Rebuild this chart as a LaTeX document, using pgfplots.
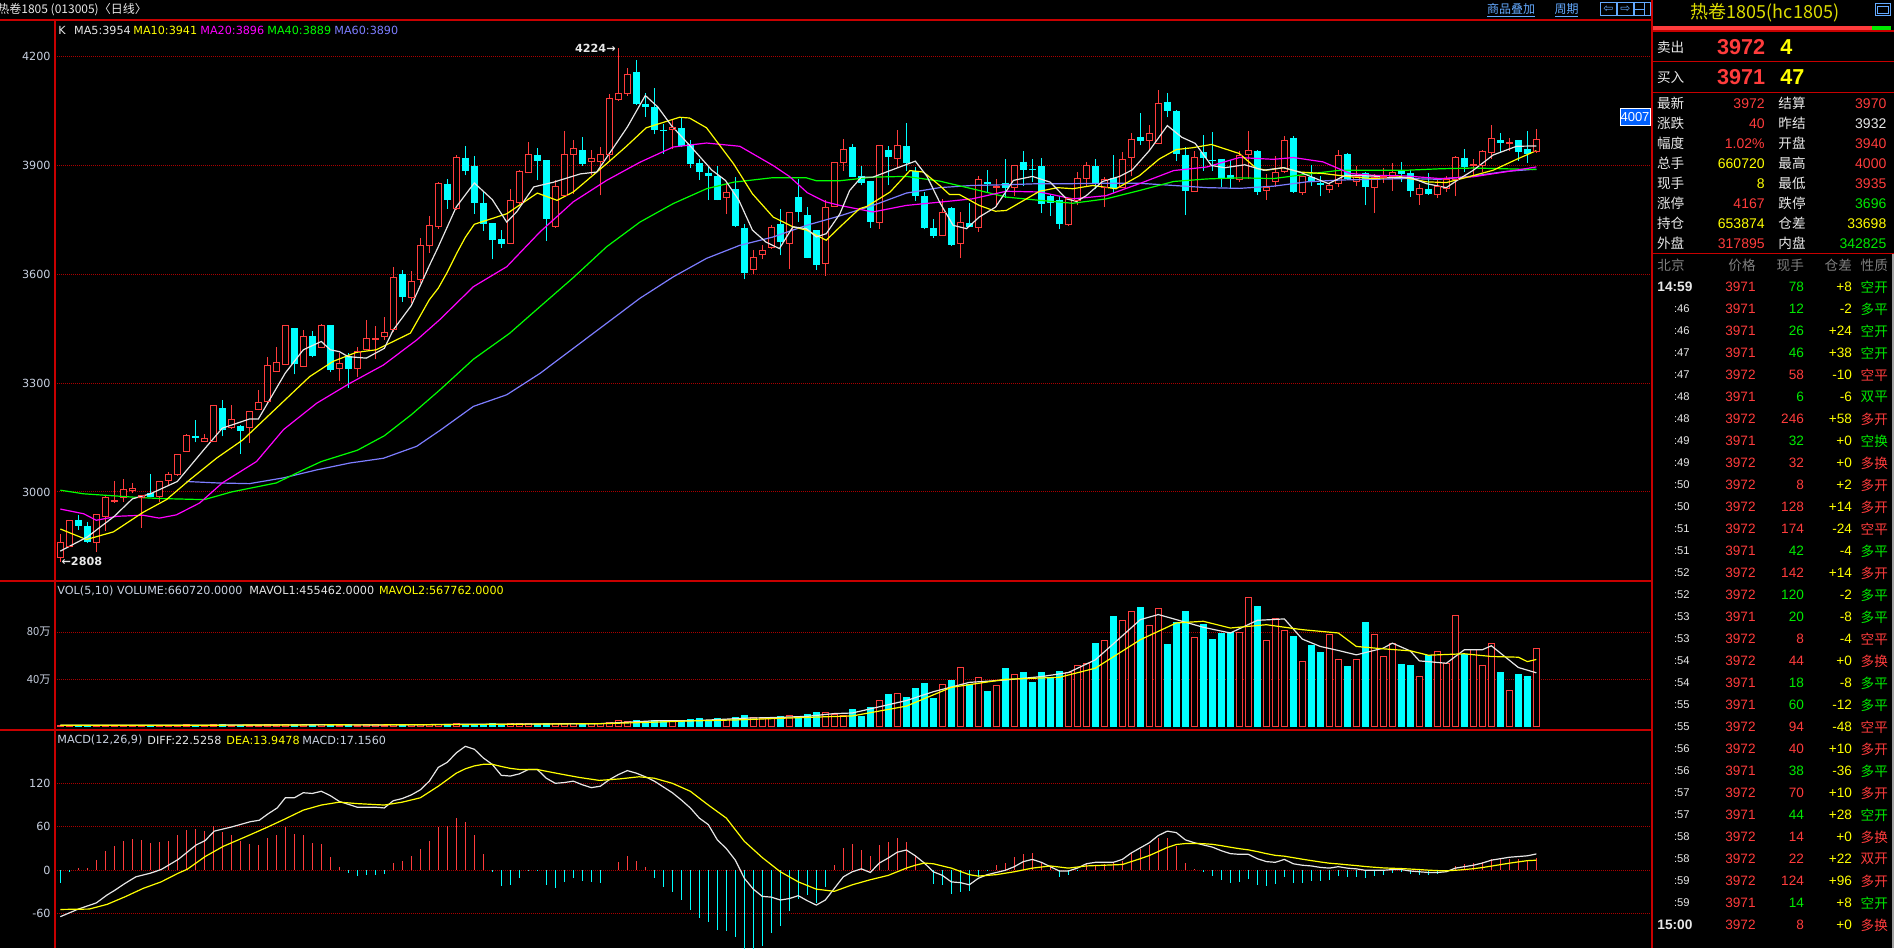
\documentclass[border=0pt]{standalone}
\usepackage{pgfplots}
\usepackage{pgfplotstable}
\pgfplotsset{compat=1.18}
\usepackage{fontspec}
\setmainfont{DejaVu Sans}
\newfontfamily\cjk{Noto Sans CJK SC}
\newfontfamily\lib{Liberation Sans}

\definecolor{border}{RGB}{200,0,0}
\definecolor{gridred}{RGB}{170,0,0}
\definecolor{upred}{RGB}{255,60,60}
\definecolor{dncyan}{RGB}{0,255,255}
\definecolor{maw}{RGB}{230,230,230}
\definecolor{may}{RGB}{255,255,0}
\definecolor{mam}{RGB}{255,0,255}
\definecolor{mag}{RGB}{0,255,0}
\definecolor{mab}{RGB}{125,125,255}
\definecolor{lbl}{RGB}{200,208,224}
\definecolor{lblw}{RGB}{232,232,232}
\definecolor{linkblue}{RGB}{100,170,255}
\definecolor{ttl}{RGB}{220,220,0}
\definecolor{qgreen}{RGB}{0,235,0}
\definecolor{hdrgray}{RGB}{128,128,128}
\definecolor{boxblue}{RGB}{0,96,255}

\newcommand{\fs}[1]{\fontsize{#1}{#1}\selectfont}

\pgfplotsset{
  panel/.style={scale only axis, anchor=south west, width=797.5pt,
    xmin=-0.589, xmax=176.63, axis line style={draw=none}, xtick=\empty,
    ytick pos=left, major tick length=0pt, tick style={draw=none},
    ymajorgrids, major grid style={draw=gridred, line width=0.5pt, dash pattern=on 0.5pt off 0.5pt},
    yticklabel style={font=\fs{5.6}, text=lbl, inner sep=0pt, xshift=-2pt}},
}

% candles, split by colour: wick rows (low, high) and body rows (open, close), nan = gap
\pgfplotstableread[row sep=\\]{x y\\
0 2808\\0 2884\\0 nan\\1 2849\\1 2924\\1 nan\\4 2834\\4 2938\\4 nan\\5 2892\\5 2991\\5 nan\\
6 2970\\6 3031\\6 nan\\7 2973\\7 3036\\7 nan\\8 2996\\8 3025\\8 nan\\9 2901\\9 2991\\9 nan\\
11 2972\\11 3029\\11 nan\\12 3018\\12 3054\\12 nan\\13 3045\\13 3106\\13 nan\\14 3111\\14 3161\\14 nan\\
16 3139\\16 3159\\16 nan\\17 3139\\17 3239\\17 nan\\19 3175\\19 3240\\19 nan\\21 3135\\21 3224\\21 nan\\
22 3225\\22 3282\\22 nan\\23 3245\\23 3372\\23 nan\\24 3331\\24 3399\\24 nan\\25 3350\\25 3458\\25 nan\\
27 3344\\27 3447\\27 nan\\29 3396\\29 3463\\29 nan\\31 3305\\31 3382\\31 nan\\33 3318\\33 3401\\33 nan\\
34 3392\\34 3474\\34 nan\\35 3366\\35 3458\\35 nan\\36 3419\\36 3483\\36 nan\\37 3440\\37 3620\\37 nan\\
39 3522\\39 3610\\39 nan\\40 3575\\40 3700\\40 nan\\41 3660\\41 3760\\41 nan\\42 3725\\42 3855\\42 nan\\
44 3778\\44 3928\\44 nan\\50 3683\\50 3836\\50 nan\\51 3795\\51 3888\\51 nan\\52 3880\\52 3966\\52 nan\\
55 3729\\55 3859\\55 nan\\56 3815\\56 3994\\56 nan\\57 3822\\57 3969\\57 nan\\59 3873\\59 3943\\59 nan\\
60 3818\\60 3951\\60 nan\\61 3910\\61 4097\\61 nan\\62 4079\\62 4224\\62 nan\\63 4092\\63 4168\\63 nan\\
68 3945\\68 4026\\68 nan\\74 3766\\74 3854\\74 nan\\77 3600\\77 3667\\77 nan\\78 3641\\78 3681\\78 nan\\
79 3671\\79 3735\\79 nan\\81 3616\\81 3770\\81 nan\\85 3595\\85 3804\\85 nan\\86 3786\\86 3908\\86 nan\\
87 3885\\87 3974\\87 nan\\91 3725\\91 3954\\91 nan\\93 3894\\93 3998\\93 nan\\98 3706\\98 3808\\98 nan\\
100 3645\\100 3772\\100 nan\\102 3717\\102 3872\\102 nan\\104 3785\\104 3863\\104 nan\\106 3817\\106 3902\\106 nan\\
112 3733\\112 3808\\112 nan\\113 3790\\113 3883\\113 nan\\114 3842\\114 3911\\114 nan\\116 3785\\116 3868\\116 nan\\
118 3840\\118 3937\\118 nan\\119 3870\\119 3989\\119 nan\\121 3941\\121 4013\\121 nan\\122 3958\\122 4108\\122 nan\\
126 3827\\126 3939\\126 nan\\131 3854\\131 3941\\131 nan\\132 3863\\132 3996\\132 nan\\134 3806\\134 3876\\134 nan\\
135 3841\\135 3926\\135 nan\\136 3878\\136 3981\\136 nan\\138 3820\\138 3871\\138 nan\\141 3825\\141 3852\\141 nan\\
142 3841\\142 3942\\142 nan\\144 3843\\144 3898\\144 nan\\146 3769\\146 3876\\146 nan\\147 3852\\147 3894\\147 nan\\
148 3830\\148 3906\\148 nan\\151 3791\\151 3850\\151 nan\\153 3811\\153 3860\\153 nan\\154 3827\\154 3872\\154 nan\\
155 3815\\155 3926\\155 nan\\157 3871\\157 3919\\157 nan\\158 3883\\158 3942\\158 nan\\159 3917\\159 4011\\159 nan\\
161 3940\\161 3977\\161 nan\\164 3935\\164 4000\\164 nan\\
}\wickR
\pgfplotstableread[row sep=\\]{x y\\
0 2820\\0 2860\\0 nan\\1 2850\\1 2921\\1 nan\\4 2862\\4 2937\\4 nan\\5 2933\\5 2986\\5 nan\\
6 2973\\6 2976\\6 nan\\7 2984\\7 3008\\7 nan\\8 3003\\8 3011\\8 nan\\9 2986\\9 2989\\9 nan\\
11 2988\\11 3028\\11 nan\\12 3032\\12 3047\\12 nan\\13 3047\\13 3102\\13 nan\\14 3113\\14 3157\\14 nan\\
16 3140\\16 3148\\16 nan\\17 3140\\17 3239\\17 nan\\19 3177\\19 3201\\19 nan\\21 3179\\21 3222\\21 nan\\
22 3227\\22 3248\\22 nan\\23 3250\\23 3350\\23 nan\\24 3333\\24 3358\\24 nan\\25 3351\\25 3458\\25 nan\\
27 3346\\27 3430\\27 nan\\29 3398\\29 3458\\29 nan\\31 3340\\31 3353\\31 nan\\33 3340\\33 3386\\33 nan\\
34 3394\\34 3424\\34 nan\\35 3421\\35 3424\\35 nan\\36 3428\\36 3439\\36 nan\\37 3449\\37 3590\\37 nan\\
39 3537\\39 3580\\39 nan\\40 3585\\40 3680\\40 nan\\41 3680\\41 3735\\41 nan\\42 3731\\42 3850\\42 nan\\
44 3781\\44 3923\\44 nan\\50 3685\\50 3803\\50 nan\\51 3797\\51 3883\\51 nan\\52 3882\\52 3930\\52 nan\\
55 3731\\55 3841\\55 nan\\56 3817\\56 3930\\56 nan\\57 3930\\57 3946\\57 nan\\59 3912\\59 3919\\59 nan\\
60 3912\\60 3930\\60 nan\\61 3930\\61 4084\\61 nan\\62 4082\\62 4099\\62 nan\\63 4099\\63 4152\\63 nan\\
68 4000\\68 4006\\68 nan\\74 3811\\74 3825\\74 nan\\77 3613\\77 3646\\77 nan\\78 3655\\78 3667\\78 nan\\
79 3674\\79 3729\\79 nan\\81 3685\\81 3770\\81 nan\\85 3630\\85 3784\\85 nan\\86 3786\\86 3908\\86 nan\\
87 3908\\87 3943\\87 nan\\91 3744\\91 3954\\91 nan\\93 3918\\93 3954\\93 nan\\98 3706\\98 3770\\98 nan\\
100 3684\\100 3742\\100 nan\\102 3728\\102 3861\\102 nan\\104 3839\\104 3843\\104 nan\\106 3839\\106 3899\\106 nan\\
112 3738\\112 3808\\112 nan\\113 3804\\113 3863\\113 nan\\114 3863\\114 3899\\114 nan\\116 3839\\116 3861\\116 nan\\
118 3840\\118 3916\\118 nan\\119 3921\\119 3973\\119 nan\\121 3969\\121 3987\\121 nan\\122 3961\\122 4072\\122 nan\\
126 3829\\126 3921\\126 nan\\131 3861\\131 3928\\131 nan\\132 3929\\132 3941\\132 nan\\134 3832\\134 3839\\134 nan\\
135 3855\\135 3882\\135 nan\\136 3883\\136 3970\\136 nan\\138 3825\\138 3871\\138 nan\\141 3834\\141 3845\\141 nan\\
142 3850\\142 3928\\142 nan\\144 3855\\144 3871\\144 nan\\146 3839\\146 3867\\146 nan\\147 3868\\147 3869\\147 nan\\
148 3869\\148 3880\\148 nan\\151 3820\\151 3836\\151 nan\\153 3820\\153 3843\\153 nan\\154 3836\\154 3861\\154 nan\\
155 3861\\155 3922\\155 nan\\157 3899\\157 3903\\157 nan\\158 3899\\158 3940\\158 nan\\159 3937\\159 3975\\159 nan\\
161 3961\\161 3964\\161 nan\\164 3940\\164 3972\\164 nan\\
}\bodyR
\pgfplotstableread[row sep=\\]{x y\\
2 2896\\2 2937\\2 nan\\3 2860\\3 2917\\3 nan\\10 2985\\10 3050\\10 nan\\15 3137\\15 3199\\15 nan\\
18 3153\\18 3254\\18 nan\\20 3106\\20 3186\\20 nan\\26 3324\\26 3452\\26 nan\\28 3371\\28 3443\\28 nan\\
30 3330\\30 3461\\30 nan\\32 3288\\32 3383\\32 nan\\38 3525\\38 3612\\38 nan\\43 3781\\43 3864\\43 nan\\
45 3873\\45 3954\\45 nan\\46 3767\\46 3925\\46 nan\\47 3720\\47 3827\\47 nan\\48 3641\\48 3741\\48 nan\\
49 3672\\49 3722\\49 nan\\53 3859\\53 3949\\53 nan\\54 3692\\54 3914\\54 nan\\58 3900\\58 3978\\58 nan\\
64 4068\\64 4191\\64 nan\\65 4035\\65 4101\\65 nan\\66 3986\\66 4114\\66 nan\\67 3932\\67 4015\\67 nan\\
69 3952\\69 4033\\69 nan\\70 3894\\70 3969\\70 nan\\71 3861\\71 3919\\71 nan\\72 3806\\72 3900\\72 nan\\
73 3804\\73 3899\\73 nan\\75 3730\\75 3868\\75 nan\\76 3586\\76 3738\\76 nan\\80 3652\\80 3781\\80 nan\\
82 3744\\82 3864\\82 nan\\83 3644\\83 3786\\83 nan\\84 3613\\84 3722\\84 nan\\88 3868\\88 3958\\88 nan\\
89 3845\\89 3899\\89 nan\\90 3729\\90 3856\\90 nan\\92 3845\\92 3954\\92 nan\\94 3886\\94 4018\\94 nan\\
95 3802\\95 3895\\95 nan\\96 3724\\96 3827\\96 nan\\97 3700\\97 3753\\97 nan\\99 3678\\99 3787\\99 nan\\
101 3730\\101 3798\\101 nan\\103 3824\\103 3889\\103 nan\\105 3811\\105 3917\\105 nan\\107 3843\\107 3939\\107 nan\\
108 3854\\108 3918\\108 nan\\109 3769\\109 3921\\109 nan\\110 3762\\110 3819\\110 nan\\111 3724\\111 3815\\111 nan\\
115 3834\\115 3918\\115 nan\\117 3825\\117 3930\\117 nan\\120 3956\\120 4045\\120 nan\\123 4033\\123 4100\\123 nan\\
124 3912\\124 4053\\124 nan\\125 3764\\125 3950\\125 nan\\127 3886\\127 3985\\127 nan\\128 3886\\128 3992\\128 nan\\
129 3840\\129 3919\\129 nan\\130 3836\\130 3916\\130 nan\\133 3820\\133 3943\\133 nan\\137 3825\\137 3981\\137 nan\\
139 3844\\139 3901\\139 nan\\140 3815\\140 3871\\140 nan\\143 3861\\143 3935\\143 nan\\145 3791\\145 3883\\145 nan\\
149 3855\\149 3909\\149 nan\\150 3814\\150 3887\\150 nan\\152 3819\\152 3878\\152 nan\\156 3883\\156 3945\\156 nan\\
160 3935\\160 3990\\160 nan\\162 3913\\162 3970\\162 nan\\163 3907\\163 3995\\163 nan\\
}\wickC
\pgfplotstableread[row sep=\\]{x y\\
2 2922\\2 2906\\2 nan\\3 2907\\3 2861\\3 nan\\10 2997\\10 2985\\10 nan\\15 3155\\15 3148\\15 nan\\
18 3231\\18 3170\\18 nan\\20 3183\\20 3168\\20 nan\\26 3452\\26 3353\\26 nan\\28 3430\\28 3375\\28 nan\\
30 3461\\30 3337\\30 nan\\32 3374\\32 3339\\32 nan\\38 3600\\38 3537\\38 nan\\43 3850\\43 3804\\43 nan\\
45 3921\\45 3885\\45 nan\\46 3900\\46 3797\\46 nan\\47 3798\\47 3740\\47 nan\\48 3741\\48 3694\\48 nan\\
49 3697\\49 3685\\49 nan\\53 3930\\53 3912\\53 nan\\54 3914\\54 3752\\54 nan\\58 3942\\58 3903\\58 nan\\
64 4159\\64 4070\\64 nan\\65 4070\\65 4062\\65 nan\\66 4062\\66 3997\\66 nan\\67 3999\\67 3995\\67 nan\\
69 4004\\69 3955\\69 nan\\70 3960\\70 3905\\70 nan\\71 3907\\71 3881\\71 nan\\72 3880\\72 3872\\72 nan\\
73 3870\\73 3804\\73 nan\\75 3834\\75 3733\\75 nan\\76 3729\\76 3604\\76 nan\\80 3740\\80 3689\\80 nan\\
82 3812\\82 3772\\82 nan\\83 3763\\83 3644\\83 nan\\84 3722\\84 3625\\84 nan\\88 3951\\88 3868\\88 nan\\
89 3872\\89 3851\\89 nan\\90 3856\\90 3744\\90 nan\\92 3944\\92 3923\\92 nan\\94 3954\\94 3906\\94 nan\\
95 3886\\95 3815\\95 nan\\96 3817\\96 3728\\96 nan\\97 3728\\97 3706\\97 nan\\99 3782\\99 3680\\99 nan\\
101 3742\\101 3730\\101 nan\\103 3855\\103 3848\\103 nan\\105 3853\\105 3839\\105 nan\\107 3911\\107 3888\\107 nan\\
108 3891\\108 3887\\108 nan\\109 3899\\109 3794\\109 nan\\110 3815\\110 3796\\110 nan\\111 3804\\111 3738\\111 nan\\
115 3899\\115 3853\\115 nan\\117 3866\\117 3839\\117 nan\\120 3978\\120 3967\\120 nan\\123 4076\\123 4050\\123 nan\\
124 4049\\124 3932\\124 nan\\125 3930\\125 3829\\125 nan\\127 3936\\127 3921\\127 nan\\128 3916\\128 3912\\128 nan\\
129 3919\\129 3863\\129 nan\\130 3875\\130 3863\\130 nan\\133 3939\\133 3827\\133 nan\\137 3977\\137 3827\\137 nan\\
139 3867\\139 3855\\139 nan\\140 3851\\140 3847\\140 nan\\143 3931\\143 3863\\143 nan\\145 3878\\145 3841\\145 nan\\
149 3887\\149 3876\\149 nan\\150 3878\\150 3830\\150 nan\\152 3836\\152 3821\\152 nan\\156 3922\\156 3896\\156 nan\\
160 3970\\160 3963\\160 nan\\162 3970\\162 3938\\162 nan\\163 3945\\163 3933\\163 nan\\
}\bodyC

% quote row
\newcommand{\Q}[7]{%
  \node[anchor=west, text=lblw, font=\cjk\fs{6.8}] at (1656.7,#1) {#2};
  \node[anchor=east, text=#4, font=\lib\fs{7}] at (1765,#1) {#3};
  \node[anchor=west, text=lblw, font=\cjk\fs{6.8}] at (1778,#1) {#5};
  \node[anchor=east, text=#7, font=\lib\fs{7}] at (1886.7,#1) {#6};}

% trade row
\newcommand{\T}[8]{%
  \node[anchor=east, text=lblw, font=\lib\fs{5.6}] at (1690,#1) {#2};
  \node[anchor=east, text=upred, font=\lib\fs{6.8}] at (1756,#1) {#3};
  \node[anchor=east, text=#5, font=\lib\fs{6.8}] at (1804.3,#1) {#4};
  \node[anchor=east, text=may, font=\lib\fs{6.8}] at (1852.3,#1) {#6};
  \node[anchor=east, text=#8, font=\cjk\fs{6.8}] at (1888.3,#1) {#7};}

\begin{document}
\begin{tikzpicture}
\useasboundingbox (0,0) rectangle (947pt,-474pt);
\fill[black] (0,0) rectangle (947pt,-474pt);

% ---------------- price panel ----------------
\begin{axis}[panel, at={(27.5pt,-290.25pt)}, height=280.5pt,
  ymin=2756, ymax=4302.5, ytick={3000,3300,3600,3900,4200},
  yticklabels={3000,3300,3600,3900,4200}]
\addplot[dncyan, line width=0.5pt, unbounded coords=jump] table {\wickC};
\addplot[dncyan, line width=3.3pt, unbounded coords=jump] table {\bodyC};
\addplot[upred, line width=0.5pt, unbounded coords=jump] table {\wickR};
\addplot[upred, line width=3.3pt, unbounded coords=jump] table {\bodyR};
\addplot[black, line width=2.3pt, unbounded coords=jump] table {\bodyR};
\addplot[upred, only marks, mark=-, mark size=1.65pt, mark options={solid, line width=0.5pt}] table {\bodyR};
% MA60
\addplot[mab, line width=0.6pt] coordinates {(14,3029)(17.4,3025)(21,3023)(24.8,3039)(28.5,3061)(32.2,3080)(35.9,3093)(39.6,3126)(42.2,3170)(45.9,3236)(49.6,3268)(53.3,3327)(57,3396)(60.7,3465)(64.4,3534)(68.1,3593)(71.8,3644)(75.5,3680)(79.2,3703)(82.9,3735)(86.6,3761)(90.3,3790)(94,3824)(97.7,3839)(101.3,3845)(105.1,3847)(108.8,3850)(112.5,3850)(116.2,3851)(119.9,3851)(123.7,3845)(127.4,3839)(131,3837)(134.8,3843)(138.5,3855)(142.2,3860)(145.9,3862)(149.6,3864)(153.3,3862)(157,3871)(160.7,3884)(164,3890)};
% MA40
\addplot[mag, line width=0.6pt] coordinates {(0,3005)(2.6,2995)(8,2986)(11,2982)(16,2979)(19,3000)(24,3025)(27,3061)(29,3084)(33,3115)(36,3155)(39,3213)(42.2,3282)(45.9,3366)(49.9,3437)(53.3,3511)(57,3591)(60.7,3676)(64.4,3744)(68.1,3795)(71.8,3836)(74.8,3854)(79,3866)(82.9,3866)(84,3858)(86.6,3858)(90.3,3868)(94,3870)(97.7,3857)(101.3,3836)(105.1,3813)(108.8,3804)(112.5,3796)(116.2,3808)(119.9,3831)(123.7,3856)(127.4,3863)(131,3866)(134.8,3864)(138.5,3876)(142.2,3887)(149.6,3887)(153.3,3891)(157,3893)(164,3889)};
% MA20
\addplot[mam, line width=0.6pt] coordinates {(0,2953)(2.6,2940)(4,2922)(6.3,2933)(9.2,2936)(11,2928)(12.9,2937)(15.5,2970)(18,3025)(21.8,3084)(24.8,3172)(28.5,3245)(32.2,3300)(35.9,3350)(39.6,3419)(42.2,3476)(45.9,3566)(49.6,3621)(53.3,3717)(57,3800)(60.7,3859)(64.4,3909)(68.1,3951)(71.8,3962)(75.5,3953)(79.2,3900)(81,3870)(83,3825)(85,3800)(86.6,3790)(90.3,3772)(94,3790)(97.7,3799)(101.3,3808)(105.1,3829)(108.8,3827)(112.5,3808)(116.2,3817)(119.9,3850)(123.7,3886)(127.4,3896)(131,3922)(134.8,3917)(137,3922)(140.3,3910)(143.3,3878)(145.9,3873)(149.6,3871)(153.3,3864)(157,3869)(160.7,3883)(164,3896)};
% MA10
\addplot[may, line width=0.6pt] coordinates {(0,2898)(2.9,2869)(5.9,2890)(9.2,2944)(11.8,2979)(14.4,3034)(17.4,3094)(20.3,3144)(24,3231)(27.7,3318)(30.3,3360)(32.9,3385)(35.1,3392)(38.9,3438)(41,3530)(42,3562)(43,3606)(44,3656)(45,3702)(46,3738)(49.6,3767)(53,3824)(55.2,3804)(57,3827)(60.7,3905)(62.9,3953)(65.1,4004)(68.8,4033)(69.9,4031)(71.8,4004)(74.8,3905)(76.9,3822)(79.2,3758)(81.4,3731)(82.9,3722)(85.1,3694)(86.6,3730)(88.8,3781)(89.6,3787)(92.2,3827)(94.4,3886)(95.9,3882)(97.7,3845)(98.8,3820)(99.9,3820)(102.1,3790)(103.9,3774)(105.1,3776)(108.8,3829)(110.8,3839)(112.5,3836)(114.7,3845)(117.3,3836)(119.9,3872)(122.1,3918)(124,3944)(125.8,3949)(127.9,3958)(131,3933)(132.9,3892)(134,3887)(135.9,3894)(137.7,3882)(140.3,3878)(143.3,3869)(145.9,3864)(148.9,3869)(151.8,3855)(154,3853)(156.2,3867)(159.2,3887)(161.8,3917)(164,3941)};
% MA5
\addplot[maw, line width=0.6pt] coordinates {(0,2837)(3,2876)(6,2933)(8,2981)(10,2995)(13,3029)(16,3118)(18,3176)(21,3201)(22,3201)(25,3328)(27,3392)(29,3415)(30,3392)(31,3387)(32,3373)(34,3369)(36,3396)(37,3447)(39,3514)(41,3624)(42,3676)(44,3786)(46,3852)(48,3806)(49.6,3744)(50.7,3772)(52.6,3841)(54.8,3854)(57.8,3877)(59.6,3882)(61.5,3951)(63,4006)(65,4093)(66.4,4061)(67.9,4010)(70.1,3951)(72.4,3887)(73.9,3859)(75.4,3804)(76.9,3722)(78.4,3689)(79.9,3671)(81.4,3731)(82.9,3726)(84,3703)(85.1,3712)(86.6,3766)(87.7,3831)(89,3868)(90.3,3868)(92.2,3886)(95,3912)(96.3,3870)(97.7,3799)(99.2,3735)(100.7,3726)(102.1,3758)(103.9,3785)(105.9,3859)(108,3870)(110,3854)(111.8,3808)(112.9,3801)(114,3817)(115.8,3856)(117.7,3870)(119.1,3888)(121,3941)(123,4010)(124.6,3978)(126.1,3961)(127.9,3900)(129.4,3894)(131.6,3902)(133.7,3887)(135.9,3894)(137.7,3882)(140.9,3850)(142.8,3873)(145.9,3871)(147.7,3866)(150,3867)(151.8,3850)(154,3839)(155.5,3864)(157,3887)(159.2,3929)(161.8,3953)(164,3954)};
\node[anchor=east, inner sep=0pt, text=lblw, font=\bfseries\fs{5.6}] at (axis cs:61.75,4224) {4224→};
\node[anchor=west, inner sep=0pt, text=lblw, font=\bfseries\fs{5.6}] at (axis cs:0.1,2808) {←2808};
\end{axis}

% ---------------- volume panel ----------------
\begin{axis}[panel, at={(27.5pt,-365pt)}, height=74.75pt,
  ymin=-2.9, ymax=123.6, ytick={40,80}, yticklabels={{\cjk 40万},{\cjk 80万}}]
\addplot[ybar, bar width=3.3pt, bar shift=0pt, draw=upred, fill=black, line width=0.5pt] coordinates {(0,1.0)(1,1.2)(4,1.3)(5,1.2)(6,1.0)(7,1.1)(8,0.9)(9,1.2)(11,1.1)(12,1.0)(13,1.2)(14,1.4)(16,1.0)(17,1.5)(19,1.2)(21,1.2)(22,1.3)(23,1.6)(24,1.4)(25,1.7)(27,1.4)(29,1.5)(31,1.3)(33,1.3)(34,1.5)(35,1.4)(36,1.3)(37,1.7)(39,1.5)(40,1.8)(41,1.9)(42,2.0)(44,2.2)(50,2.4)(51,2.2)(52,2.3)(55,2.4)(56,2.8)(57,2.5)(59,2.2)(60,2.6)(61,3.5)(62,5.4)(63,4.0)(68,4.8)(74,6.0)(77,8.0)(78,6.5)(79,7.2)(81,9.0)(85,12.0)(86,10.0)(87,9.5)(91,22.4)(93,28.1)(98,35.7)(100,50.2)(102,41.7)(104,34.6)(106,44.3)(112,46.0)(113,51.3)(114,53.6)(116,73.2)(118,89.4)(119,97.0)(121,85.4)(122,99.6)(126,75.7)(131,79.2)(132,108.9)(134,72.6)(135,91.1)(136,80.9)(138,54.8)(141,77.7)(142,57.0)(144,57.0)(146,77.5)(147,59.6)(148,70.6)(151,42.6)(153,63.3)(154,53.6)(155,93.9)(157,65.0)(158,51.3)(159,70.6)(161,30.6)(164,66.1)};
\addplot[ybar, bar width=3.3pt, bar shift=0pt, draw=dncyan, fill=dncyan, line width=0.5pt] coordinates {(2,0.9)(3,1.1)(10,1.0)(15,1.2)(18,1.4)(20,1.3)(26,1.6)(28,1.3)(30,1.6)(32,1.4)(38,1.6)(43,1.9)(45,1.8)(46,2.0)(47,2.1)(48,2.3)(49,1.7)(53,1.9)(54,2.6)(58,2.4)(64,5.4)(65,4.6)(66,5.2)(67,4.2)(69,4.6)(70,5.8)(71,6.6)(72,5.5)(73,6.8)(75,7.5)(76,9.5)(80,8.4)(82,8.2)(83,10.5)(84,11.5)(88,14.8)(89,8.8)(90,16.5)(92,27.5)(94,24.7)(95,32.6)(96,36.6)(97,23.8)(99,38.6)(101,35.7)(103,30.1)(105,49.4)(107,45.4)(108,37.7)(109,45.4)(110,41.4)(111,46.2)(115,70.1)(117,93.1)(120,100.7)(123,69.2)(124,87.7)(125,97.3)(127,86.2)(128,73.5)(129,78.6)(130,79.2)(133,101.6)(137,76.0)(139,68.4)(140,62.7)(143,50.5)(145,87.9)(149,52.2)(150,51.3)(152,59.9)(156,60.7)(160,45.4)(162,43.7)(163,42.8)};
% MAVOL1
\addplot[maw, line width=0.6pt] coordinates {(0,1.1)(5,1.15)(10,1.05)(15,1.2)(20,1.3)(25,1.45)(30,1.5)(35,1.4)(40,1.6)(45,1.95)(50,2.1)(55,2.3)(60,2.5)(63,3.7)(66,4.9)(70,4.9)(73,5.9)(76,7.1)(80,7.8)(83,8.7)(86,11.0)(88,11.5)(94,22)(97,29.5)(101,37.4)(105,39.4)(109,42.3)(112,45.7)(115,56.5)(117,70)(120,90.5)(122,94.8)(124,90.5)(127,84)(130,79.2)(133,89.9)(136,91.1)(138,74)(140,67.8)(142,64.4)(144,60.7)(147,66.4)(148,70.6)(150,64)(151,55.6)(154,53.6)(156,65)(158,65)(159,68.4)(162,50)(164,45.5)};
% MAVOL2
\addplot[may, line width=0.6pt] coordinates {(0,1.05)(5,1.1)(10,1.1)(15,1.15)(20,1.25)(25,1.38)(30,1.48)(35,1.45)(40,1.55)(45,1.8)(50,2.0)(55,2.2)(60,2.45)(65,3.5)(70,4.8)(75,5.6)(80,7.0)(85,8.3)(88,9)(94,17.3)(99,33.2)(105,40)(111,41.7)(115,49.4)(120,73.5)(124,87.7)(127,89.1)(130,83.4)(134,86.2)(138,82)(142,79.2)(144,67.8)(147,65.8)(150,64.1)(152,60.4)(156,61.6)(159,59.3)(162,58.7)(163,55)(164,56.8)};
\end{axis}

% ---------------- MACD panel ----------------
\begin{axis}[panel, at={(27.5pt,-474pt)}, height=109pt,
  ymin=-107.2, ymax=193.5, ytick={-60,0,60,120}, yticklabels={-60,0,60,120}]
\addplot[ycomb, upred, line width=0.6pt] coordinates {(2,3)(3,3)(4,14)(5,27)(6,34)(7,41)(8,43)(9,42)(10,38)(11,39)(12,41)(13,48)(14,56)(15,57)(16,54)(17,61)(18,53)(19,49)(20,41)(21,36)(22,35)(23,45)(24,49)(25,60)(26,50)(27,49)(28,38)(29,36)(30,18.5)(31,4.6)(37,10)(38,13)(39,20)(40,30)(41,41)(42,60)(43,61)(44,72)(45,67)(46,48)(47,23)(62,11)(63,20)(64,13)(65,5)(86,7)(87,31)(88,36)(89,28)(90,20)(91,35)(92,39)(93,44)(94,39)(95,20)(104,7)(105,10)(106,19)(107,23)(108,24)(109,12)(110,4)(114,9)(115,7)(116,8)(117,10)(118,13)(119,25)(120,30)(121,35)(122,44)(123,45)(124,33)(125,10)(126,2)(155,6)(156,8)(157,10)(158,12)(159,16)(160,16)(161,16)(162,15)(163,13)(164,17)};
\addplot[ycomb, dncyan, line width=0.6pt] coordinates {(0,-17)(1,-3)(32,-4)(33,-8)(34,-6)(35,-6)(36,-5)(48,-2)(49,-21)(50,-20)(51,-11)(52,-1)(53,-1)(54,-20)(55,-24)(56,-16)(57,-10)(58,-15)(59,-16)(60,-17)(66,-10)(67,-23)(68,-30)(69,-41)(70,-55)(71,-66)(72,-72)(73,-82)(74,-84)(75,-92)(76,-108)(77,-108)(78,-104)(79,-86)(80,-77)(81,-56)(82,-39)(83,-34)(84,-45)(85,-23)(97,-19)(98,-20)(99,-33)(100,-30)(101,-29)(102,-9)(103,-1)(111,-9)(112,-7)(113,-1)(127,-3)(128,-8)(129,-14)(130,-18)(131,-16)(132,-12)(133,-20)(134,-22)(135,-19)(136,-9)(137,-17)(138,-17)(139,-15)(140,-15)(141,-14)(142,-8)(143,-9)(144,-9)(145,-10)(146,-8)(147,-7)(148,-4)(149,-3)(150,-5)(151,-6)(152,-6)(153,-5)(154,-3)};
% DIFF
\addplot[maw, line width=0.6pt] coordinates {(0,-64)(2,-53.5)(4,-45)(5.2,-34)(6,-28)(7.2,-18)(8.4,-9)(10,-4)(11.2,1)(13.1,15)(15.1,35)(16.1,41)(17.1,54)(19.1,60)(21.1,67)(22.1,69)(23.1,78)(24.1,86)(25,100)(26,100)(27,107)(28,106)(29,109)(30,103)(31,95)(33,87)(35,87)(36,86)(37,96)(38,99)(39,104)(40,111)(41,123)(42,142)(43,149)(44,162)(45,171)(46,167)(47,155)(48,146)(49,131)(50,130)(51,133)(52,139)(53,139)(54,127)(55,120)(56,121)(57,123)(58,118)(59,114)(60,116)(61,125)(62,132)(63,137.5)(64,134)(65,129)(66,123)(67,115)(68,107)(69,97)(70,86)(71,72)(72,63)(73,42)(74,30)(75,14)(76,-11)(77,-26)(78,-36)(79,-37)(80,-41)(81,-39)(82,-35)(83,-42)(84,-48)(85,-41)(86,-25)(87,-9)(88,-2)(89,2)(90,-3)(91,10)(92,17)(93,25)(94,28)(95,20)(96,10)(97,-2)(98,-7)(99,-16)(100,-17)(101,-20)(102,-11)(103,-6)(104,-3)(105,0)(106,5)(107,12)(108,15)(109,11)(110,5)(111,-1)(112,-1)(113,3)(114,9)(115,11)(116,11)(117,11)(118,15)(119,24)(120,31)(121,38)(122,48)(123,54)(124,52)(125,42)(126,38)(127,35)(128,32)(129,27)(130,23)(131,22)(132,22)(133,16)(134,12)(135,11)(136,15)(137,9)(138,7)(139,6)(140,4)(141,3)(142,5)(143,3)(144,2)(145,0)(146,0)(147,0)(148,1)(149,1)(150,-1)(151,-2)(152,-3)(153,-3)(154,-2)(155,3)(156,5)(157,7)(158,10)(159,14)(160,16)(161,18)(162,19)(163,20)(164,22.5)};
% DEA
\addplot[may, line width=0.6pt] coordinates {(0,-54)(3.2,-53.5)(5.2,-47)(7.2,-36.5)(9.2,-25)(11.2,-16)(13.1,-4)(14.1,1.4)(16.1,19)(18.1,33)(21.1,49)(23.1,60)(25,71)(27,83)(29,90)(31,94)(33,92)(36,90)(38,94)(40,100)(42,116)(44,134)(45,140)(46,144)(47,146.2)(48,146.2)(49,143.2)(50,140.6)(51,139.1)(53,139)(55.5,133)(57.7,128)(59.9,124)(62.1,126)(64.3,129)(66,127)(68,120)(70,109)(72,90)(74,72)(76,40)(78,17.5)(80,-2)(82,-16)(84,-26)(86,-29)(88,-20)(90,-13)(92,-7)(94,3)(95,7)(96,10)(97,9)(99,3)(101,-6)(102,-8)(104,-6)(106,-2)(108,3)(110,6)(112,3)(114,6)(116,7)(118,8)(120,16)(121,20.4)(122,25.9)(123,31.5)(124,35.6)(125,36.9)(126,37.1)(127,36.7)(128,35.8)(129,34)(130,31.8)(131,29.8)(132,28.2)(133,25.8)(134,23)(135,20.6)(136,19.5)(137,17.4)(138,15.3)(139,13.4)(140,11.5)(141,9.8)(142,8.8)(143,7.6)(144,6.5)(145,5.2)(146,4.2)(147,3.3)(148,2.8)(149,2.4)(150,1.7)(151,1)(152,0.2)(153,-0.4)(154,-0.7)(155,0)(156,1)(157,2.2)(158,3.8)(159,5.8)(160,7.8)(161,9.8)(162,11.6)(163,13.3)(164,13.9)};
\end{axis}

% ---------------- frame, headers and quote panel (pixel units) ----------------
\begin{scope}[x=0.5pt, y=-0.5pt, every node/.style={inner sep=0pt}]
\draw[border, line width=1pt] (0,19.5) -- (1651,19.5);
\draw[border, line width=1pt] (0,580.5) -- (1651,580.5);
\draw[border, line width=1pt] (0,730) -- (1651,730);
\draw[border, line width=1pt] (55,19.5) -- (55,948);
\draw[border, line width=1pt] (1651.5,0) -- (1651.5,948);

\node[anchor=west, text=lblw, font=\cjk\fs{6}] at (-3,9.5) {热卷1805 (013005)〈日线〉};
\node[anchor=center, text=linkblue, font=\cjk\fs{6}] at (1511,9) {商品叠加};
\draw[linkblue, line width=0.5pt] (1487,16) -- (1535,16);
\node[anchor=center, text=linkblue, font=\cjk\fs{6}] at (1566.5,9) {周期};
\draw[linkblue, line width=0.5pt] (1555,16) -- (1578,16);
\draw[linkblue, line width=0.5pt] (1600.5,2.5) rectangle (1616.5,15.5);
\node[text=linkblue, font=\fs{6}] at (1608.5,9) {⇦};
\draw[linkblue, line width=0.5pt] (1617.5,2.5) rectangle (1633.5,15.5);
\node[text=linkblue, font=\fs{6}] at (1625.5,9) {⇨};
\draw[linkblue, line width=0.5pt] (1634.5,2.5) rectangle (1650,15.5);
\draw[linkblue, line width=0.5pt] (1635,9) -- (1644,9) (1644,2.5) -- (1644,15.5);

\node[anchor=west, text=lblw, font=\fs{5.6}] at (58,30) {K};
\node[anchor=west, text=maw, font=\fs{5.6}] at (73.7,30) {MA5:3954};
\node[anchor=west, text=may, font=\fs{5.6}] at (133,30) {MA10:3941};
\node[anchor=west, text=mam, font=\fs{5.6}] at (200,30) {MA20:3896};
\node[anchor=west, text=mag, font=\fs{5.6}] at (267,30) {MA40:3889};
\node[anchor=west, text=mab, font=\fs{5.6}] at (334,30) {MA60:3890};

\node[anchor=west, text=lbl, font=\fs{5.6}] at (57,590.7) {VOL(5,10) VOLUME:660720.0000};
\node[anchor=west, text=maw, font=\fs{5.6}] at (249,590.7) {MAVOL1:455462.0000};
\node[anchor=west, text=may, font=\fs{5.6}] at (378.6,590.7) {MAVOL2:567762.0000};

\node[anchor=west, text=lbl, font=\fs{5.6}] at (57,740) {MACD(12,26,9)};
\node[anchor=west, text=maw, font=\fs{5.6}] at (147,740) {DIFF:22.5258};
\node[anchor=west, text=may, font=\fs{5.6}] at (226,740) {DEA:13.9478};
\node[anchor=west, text=lbl, font=\fs{5.6}] at (302,740) {MACD:17.1560};

\node[anchor=east, fill=boxblue, draw=white, line width=0.5pt, text=white, font=\lib\fs{6.5},
  minimum width=15pt, minimum height=8.5pt] at (1650.5,117) {4007};

% right panel
\node[text=ttl, font=\cjk\fs{9}] at (1765,12.7) {热卷1805(hc1805)};
\draw[linkblue, line width=0.5pt] (1875,3.5) rectangle (1890,15);
\draw[linkblue, line width=0.5pt] (1877,6) rectangle (1888,13);
\fill[upred] (1653,25.7) rectangle (1872,30);
\fill[qgreen] (1872,25.7) rectangle (1891,30);
\draw[border, line width=0.7pt] (1651,31) -- (1894,31);
\draw[border, line width=0.7pt] (1651,61.3) -- (1894,61.3);
\draw[border, line width=0.7pt] (1651,92.7) -- (1894,92.7);
\draw[border, line width=0.7pt] (1651,253.3) -- (1894,253.3);
\fill[gray!75] (1891.5,254) rectangle (1894,948);

\node[anchor=west, text=lblw, font=\cjk\fs{6.8}] at (1656.7,47.7) {卖出};
\node[anchor=west, text=upred, font=\lib\bfseries\fs{10.8}] at (1716.7,46.7) {3972};
\node[anchor=west, text=may, font=\lib\bfseries\fs{10.8}] at (1780,46.7) {4};
\node[anchor=west, text=lblw, font=\cjk\fs{6.8}] at (1656.7,77.3) {买入};
\node[anchor=west, text=upred, font=\lib\bfseries\fs{10.8}] at (1716.7,76.7) {3971};
\node[anchor=west, text=may, font=\lib\bfseries\fs{10.8}] at (1780,76.7) {47};

\Q{103.3}{最新}{3972}{upred}{结算}{3970}{upred}
\Q{123.3}{涨跌}{40}{upred}{昨结}{3932}{lblw}
\Q{143.3}{幅度}{1.02\%}{upred}{开盘}{3940}{upred}
\Q{163.3}{总手}{660720}{may}{最高}{4000}{upred}
\Q{183.3}{现手}{8}{may}{最低}{3935}{upred}
\Q{203.3}{涨停}{4167}{upred}{跌停}{3696}{qgreen}
\Q{223.3}{持仓}{653874}{may}{仓差}{33698}{may}
\Q{243.3}{外盘}{317895}{upred}{内盘}{342825}{qgreen}

\node[anchor=west, text=hdrgray, font=\cjk\fs{6.8}] at (1657,265) {北京};
\node[anchor=east, text=hdrgray, font=\cjk\fs{6.8}] at (1756,265) {价格};
\node[anchor=east, text=hdrgray, font=\cjk\fs{6.8}] at (1804.3,265) {现手};
\node[anchor=east, text=hdrgray, font=\cjk\fs{6.8}] at (1852.3,265) {仓差};
\node[anchor=east, text=hdrgray, font=\cjk\fs{6.8}] at (1888.3,265) {性质};

\node[anchor=west, text=lblw, font=\lib\bfseries\fs{6.85}] at (1657,287) {14:59};
\T{287}{}{3971}{78}{qgreen}{+8}{空开}{qgreen}
\T{309}{:46}{3971}{12}{qgreen}{-2}{多平}{qgreen}
\T{331}{:46}{3971}{26}{qgreen}{+24}{空开}{qgreen}
\T{353}{:47}{3971}{46}{qgreen}{+38}{空开}{qgreen}
\T{375}{:47}{3972}{58}{upred}{-10}{空平}{upred}
\T{397}{:48}{3971}{6}{qgreen}{-6}{双平}{qgreen}
\T{419}{:48}{3972}{246}{upred}{+58}{多开}{upred}
\T{441}{:49}{3971}{32}{qgreen}{+0}{空换}{qgreen}
\T{463}{:49}{3972}{32}{upred}{+0}{多换}{upred}
\T{485}{:50}{3972}{8}{upred}{+2}{多开}{upred}
\T{507}{:50}{3972}{128}{upred}{+14}{多开}{upred}
\T{529}{:51}{3972}{174}{upred}{-24}{空平}{upred}
\T{551}{:51}{3971}{42}{qgreen}{-4}{多平}{qgreen}
\T{573}{:52}{3972}{142}{upred}{+14}{多开}{upred}
\T{595}{:52}{3972}{120}{qgreen}{-2}{多平}{qgreen}
\T{617}{:53}{3971}{20}{qgreen}{-8}{多平}{qgreen}
\T{639}{:53}{3972}{8}{upred}{-4}{空平}{upred}
\T{661}{:54}{3972}{44}{upred}{+0}{多换}{upred}
\T{683}{:54}{3971}{18}{qgreen}{-8}{多平}{qgreen}
\T{705}{:55}{3971}{60}{qgreen}{-12}{多平}{qgreen}
\T{727}{:55}{3972}{94}{upred}{-48}{空平}{upred}
\T{749}{:56}{3972}{40}{upred}{+10}{多开}{upred}
\T{771}{:56}{3971}{38}{qgreen}{-36}{多平}{qgreen}
\T{793}{:57}{3972}{70}{upred}{+10}{多开}{upred}
\T{815}{:57}{3971}{44}{qgreen}{+28}{空开}{qgreen}
\T{837}{:58}{3972}{14}{upred}{+0}{多换}{upred}
\T{859}{:58}{3972}{22}{upred}{+22}{双开}{upred}
\T{881}{:59}{3972}{124}{upred}{+96}{多开}{upred}
\T{903}{:59}{3971}{14}{qgreen}{+8}{空开}{qgreen}
\node[anchor=west, text=lblw, font=\lib\bfseries\fs{6.85}] at (1657,925) {15:00};
\T{925}{}{3972}{8}{upred}{+0}{多换}{upred}
\end{scope}
\end{tikzpicture}
\end{document}
